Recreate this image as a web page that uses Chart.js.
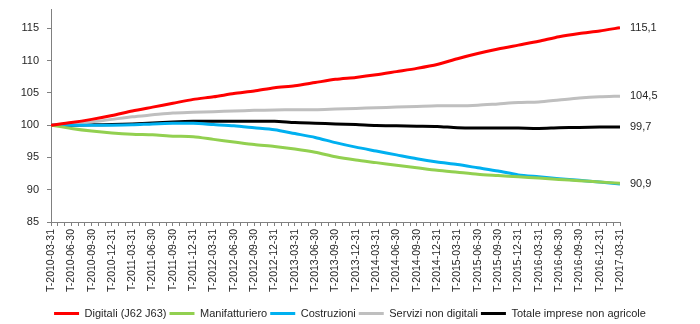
<!DOCTYPE html>
<html>
<head>
<meta charset="utf-8">
<script src="https://cdn.jsdelivr.net/npm/chart.js@4"></script>
<style>
  html, body { margin: 0; padding: 0; background: #fff; }
  #wrap { width: 700px; height: 324px; }
</style>
</head>
<body>
<div id="wrap"><canvas id="trendChart"></canvas></div>
<script>
const quarters = [
    'T-2010-03-31', 'T-2010-06-30', 'T-2010-09-30', 'T-2010-12-31',
    'T-2011-03-31', 'T-2011-06-30', 'T-2011-09-30', 'T-2011-12-31',
    'T-2012-03-31', 'T-2012-06-30', 'T-2012-09-30', 'T-2012-12-31',
    'T-2013-03-31', 'T-2013-06-30', 'T-2013-09-30', 'T-2013-12-31',
    'T-2014-03-31', 'T-2014-06-30', 'T-2014-09-30', 'T-2014-12-31',
    'T-2015-03-31', 'T-2015-06-30', 'T-2015-09-30', 'T-2015-12-31',
    'T-2016-03-31', 'T-2016-06-30', 'T-2016-09-30', 'T-2016-12-31',
    'T-2017-03-31'
];

const digitali = [100, 100.4, 100.9, 101.5, 102.2, 102.8, 103.4, 104.0, 104.4, 104.9,
    105.3, 105.8, 106.1, 106.6, 107.1, 107.4, 107.8, 108.3, 108.8, 109.4,
    110.3, 111.1, 111.8, 112.4, 113.0, 113.7, 114.2, 114.6, 115.1];
const manifatturiero = [100, 99.5, 99.1, 98.8, 98.6, 98.5, 98.3, 98.2, 97.8, 97.4,
    97.0, 96.7, 96.3, 95.8, 95.1, 94.6, 94.2, 93.8, 93.4, 93.0,
    92.7, 92.4, 92.2, 92.0, 91.8, 91.6, 91.4, 91.2, 91.0];
const costruzioni = [100, 100, 100, 100, 100.05, 100.2, 100.3, 100.3, 100.1, 99.9,
    99.6, 99.3, 98.7, 98.1, 97.3, 96.6, 96.0, 95.4, 94.8, 94.3,
    93.9, 93.4, 92.9, 92.3, 92.0, 91.7, 91.45, 91.2, 90.9];
const serviziNonDigitali = [100, 100.2, 100.5, 100.9, 101.3, 101.6, 101.9, 102.0, 102.1, 102.2,
    102.3, 102.35, 102.4, 102.4, 102.5, 102.6, 102.7, 102.8, 102.9, 103.0,
    103.0, 103.1, 103.3, 103.5, 103.6, 103.9, 104.2, 104.4, 104.5];
const totaleImprese = [100, 100, 100.05, 100.1, 100.2, 100.35, 100.5, 100.6, 100.6, 100.6,
    100.6, 100.6, 100.4, 100.3, 100.2, 100.1, 99.95, 99.9, 99.85, 99.8,
    99.6, 99.55, 99.55, 99.55, 99.5, 99.6, 99.65, 99.7, 99.7];

const endLabels = ['115,1', null, '90,9', '104,5', '99,7'];

const FONT = 'Liberation Sans, Arial, sans-serif';
const TEXT = '#262626';

// quarterly points placed on a monthly axis (3 months per quarter)
function toPoints(values) {
    return values.map((v, i) => ({ x: i * 3, y: v }));
}

function makeSeries(label, values, color) {
    return {
        label: label,
        data: toPoints(values),
        borderColor: color,
        backgroundColor: color,
        borderWidth: 3,
        pointRadius: 0,
        tension: 0.25,
        fill: false
    };
}

const endLabelPlugin = {
    id: 'endLabels',
    afterDatasetsDraw(chart) {
        const ctx = chart.ctx;
        ctx.save();
        ctx.font = '11px ' + FONT;
        ctx.fillStyle = TEXT;
        ctx.textBaseline = 'middle';
        ctx.textAlign = 'left';
        chart.data.datasets.forEach((ds, i) => {
            if (!endLabels[i]) return;
            const pts = chart.getDatasetMeta(i).data;
            const last = pts[pts.length - 1];
            ctx.fillText(endLabels[i], last.x + 10, last.y);
        });
        ctx.restore();
    }
};

let trendChart = null;

function renderTrendChart() {
    const canvas = document.getElementById('trendChart');
    if (!canvas) return;

    trendChart = new Chart(canvas.getContext('2d'), {
        type: 'line',
        data: {
            datasets: [
                makeSeries('Digitali (J62 J63)', digitali, '#FF0000'),
                makeSeries('Manifatturiero', manifatturiero, '#92D050'),
                makeSeries('Costruzioni', costruzioni, '#00B0F0'),
                makeSeries('Servizi non digitali', serviziNonDigitali, '#BFBFBF'),
                makeSeries('Totale imprese non agricole', totaleImprese, '#000000')
            ]
        },
        options: {
            responsive: true,
            maintainAspectRatio: false,
            animation: false,
            layout: {
                padding: { top: 9, right: 0, left: 0, bottom: -5 }
            },
            plugins: {
                tooltip: { enabled: false },
                legend: {
                    position: 'bottom',
                    labels: {
                        usePointStyle: true,
                        pointStyle: 'line',
                        pointStyleWidth: 25,
                        boxHeight: 11,
                        padding: 3,
                        color: TEXT,
                        font: { family: FONT, size: 11 }
                    }
                }
            },
            scales: {
                x: {
                    type: 'linear',
                    min: 0,
                    max: (quarters.length - 1) * 3,
                    afterBuildTicks(scale) {
                        const ticks = [];
                        for (let m = 0; m <= (quarters.length - 1) * 3; m++) {
                            ticks.push({ value: m });
                        }
                        scale.ticks = ticks;
                    },
                    afterFit(scale) {
                        scale.height = 83;
                    },
                    ticks: {
                        autoSkip: false,
                        maxRotation: 90,
                        minRotation: 90,
                        padding: 3,
                        color: TEXT,
                        font: { family: FONT, size: 10.5 },
                        callback: (v) => (v % 3 === 0 ? quarters[v / 3] : '')
                    },
                    grid: {
                        drawOnChartArea: false,
                        drawTicks: true,
                        tickLength: 4,
                        color: '#808080'
                    },
                    border: { color: '#808080', width: 1 }
                },
                y: {
                    min: 85,
                    max: 118,
                    afterBuildTicks(scale) {
                        scale.ticks = scale.ticks.filter(t => t.value % 5 === 0);
                    },
                    afterFit(scale) {
                        scale.width = 51;
                        scale.paddingTop = 0;
                        scale.paddingBottom = 0;
                    },
                    ticks: {
                        stepSize: 5,
                        padding: 8,
                        color: TEXT,
                        font: { family: FONT, size: 11 }
                    },
                    grid: {
                        drawOnChartArea: false,
                        drawTicks: true,
                        tickLength: 4,
                        color: '#808080'
                    },
                    border: { color: '#808080', width: 1 }
                },
                // empty right axis: keeps room for the end-of-line values
                yRight: {
                    position: 'right',
                    min: 85,
                    max: 118,
                    afterFit(scale) {
                        scale.width = 80;
                        scale.paddingTop = 0;
                        scale.paddingBottom = 0;
                    },
                    ticks: { display: false },
                    grid: { display: false },
                    border: { display: false }
                }
            }
        },
        plugins: [endLabelPlugin]
    });
}

window.addEventListener('load', () => {
    renderTrendChart();
});
</script>
</body>
</html>
